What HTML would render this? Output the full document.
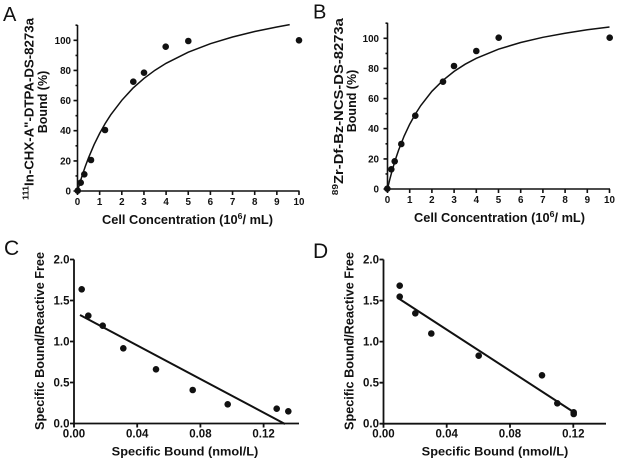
<!DOCTYPE html>
<html><head><meta charset="utf-8">
<style>
html,body{margin:0;padding:0;background:#fff;}
svg{display:block;}
text{font-family:"Liberation Sans",Arial,sans-serif;fill:#111;font-weight:bold;}
text.n{font-weight:normal;}
</style></head>
<body>
<svg width="618" height="462" viewBox="0 0 618 462" xmlns="http://www.w3.org/2000/svg">
<rect width="618" height="462" fill="#fff"/>

<!-- ================= PANEL A ================= -->
<text class="n" x="3" y="21" font-size="20">A</text>
<g stroke="#111" stroke-width="1.6" fill="none">
  <line x1="77.5" y1="25" x2="77.5" y2="191.8"/>
  <line x1="76.7" y1="191" x2="299.5" y2="191"/>
  <path d="M73.5 191H77.5M73.5 160.9H77.5M73.5 130.7H77.5M73.5 100.6H77.5M73.5 70.4H77.5M73.5 40.3H77.5"/>
  <path d="M75.5 175.9H77.5M75.5 145.8H77.5M75.5 115.7H77.5M75.5 85.5H77.5M75.5 55.4H77.5M75.5 25.2H77.5"/>
  <path d="M77.5 191V195M99.65 191V195M121.8 191V195M143.95 191V195M166.1 191V195M188.25 191V195M210.4 191V195M232.55 191V195M254.7 191V195M276.85 191V195M299 191V195"/>
</g>
<g font-size="9.8" text-anchor="end" font-weight="bold">
  <text x="71" y="194.5">0</text>
  <text x="71" y="164.4">20</text>
  <text x="71" y="134.2">40</text>
  <text x="71" y="104.1">60</text>
  <text x="71" y="73.9">80</text>
  <text x="71" y="43.8">100</text>
</g>
<g font-size="9.8" text-anchor="middle" font-weight="bold">
  <text x="77.5" y="205">0</text>
  <text x="99.65" y="205">1</text>
  <text x="121.8" y="205">2</text>
  <text x="143.95" y="205">3</text>
  <text x="166.1" y="205">4</text>
  <text x="188.25" y="205">5</text>
  <text x="210.4" y="205">6</text>
  <text x="232.55" y="205">7</text>
  <text x="254.7" y="205">8</text>
  <text x="276.85" y="205">9</text>
  <text x="299" y="205">10</text>
</g>
<text font-size="12.5" x="102" y="224" textLength="171" lengthAdjust="spacingAndGlyphs">Cell Concentration (10<tspan font-size="8.5" dy="-5">6</tspan><tspan dy="5">/ mL)</tspan></text>
<text font-size="12.5" text-anchor="middle" transform="translate(33.5,109) rotate(-90)" textLength="182" lengthAdjust="spacingAndGlyphs"><tspan font-size="8.5" dy="-5">111</tspan><tspan dy="5">In-CHX-A"-DTPA-DS-8273a</tspan></text>
<text font-size="12.5" text-anchor="middle" transform="translate(47,102) rotate(-90)">Bound (%)</text>
<polyline fill="none" stroke="#111" stroke-width="1.5" points="77.5,191 79.7,183.4 81.93,176.3 85.25,166.5 88.58,157.7 94.11,144.6 99.65,133.4 105.19,123.5 110.73,114.8 121.8,100.3 132.88,88.2 143.95,78.4 155.03,70.2 166.1,63.3 188.25,52.2 210.4,43.7 232.55,37 254.7,31.5 276.85,27 289.7,24.6"/>
<g fill="#111">
  <circle cx="77.7" cy="190.7" r="3.3"/>
  <circle cx="80.7" cy="182.7" r="3.3"/>
  <circle cx="84.3" cy="174.3" r="3.3"/>
  <circle cx="91" cy="160" r="3.3"/>
  <circle cx="105" cy="130" r="3.3"/>
  <circle cx="133.3" cy="81.7" r="3.3"/>
  <circle cx="144" cy="72.7" r="3.3"/>
  <circle cx="165.7" cy="46.7" r="3.3"/>
  <circle cx="188.3" cy="41" r="3.3"/>
  <circle cx="299" cy="40.3" r="3.3"/>
</g>

<!-- ================= PANEL B ================= -->
<text class="n" x="313" y="18.5" font-size="20">B</text>
<g stroke="#111" stroke-width="1.6" fill="none">
  <line x1="387.5" y1="22.7" x2="387.5" y2="189.8"/>
  <line x1="386.7" y1="189" x2="610" y2="189"/>
  <path d="M383.5 189H387.5M383.5 158.9H387.5M383.5 128.7H387.5M383.5 98.6H387.5M383.5 68.4H387.5M383.5 38.3H387.5"/>
  <path d="M385.5 173.9H387.5M385.5 143.8H387.5M385.5 113.7H387.5M385.5 83.5H387.5M385.5 53.4H387.5M385.5 23.2H387.5"/>
  <path d="M387.5 189V193M409.7 189V193M431.9 189V193M454.1 189V193M476.3 189V193M498.5 189V193M520.7 189V193M542.9 189V193M565.1 189V193M587.3 189V193M609.5 189V193"/>
</g>
<g font-size="9.8" text-anchor="end" font-weight="bold">
  <text x="379" y="192.5">0</text>
  <text x="379" y="162.4">20</text>
  <text x="379" y="132.2">40</text>
  <text x="379" y="102.1">60</text>
  <text x="379" y="71.9">80</text>
  <text x="379" y="41.8">100</text>
</g>
<g font-size="9.8" text-anchor="middle" font-weight="bold">
  <text x="387.5" y="203">0</text>
  <text x="409.7" y="203">1</text>
  <text x="431.9" y="203">2</text>
  <text x="454.1" y="203">3</text>
  <text x="476.3" y="203">4</text>
  <text x="498.5" y="203">5</text>
  <text x="520.7" y="203">6</text>
  <text x="542.9" y="203">7</text>
  <text x="565.1" y="203">8</text>
  <text x="587.3" y="203">9</text>
  <text x="609.5" y="203">10</text>
</g>
<text font-size="12.5" x="414" y="222" textLength="171" lengthAdjust="spacingAndGlyphs">Cell Concentration (10<tspan font-size="8.5" dy="-5">6</tspan><tspan dy="5">/ mL)</tspan></text>
<text font-size="12.5" text-anchor="middle" transform="translate(343,106.7) rotate(-90)" textLength="177" lengthAdjust="spacingAndGlyphs"><tspan font-size="8.5" dy="-5">89</tspan><tspan dy="5">Zr-Df-Bz-NCS-DS-8273a</tspan></text>
<text font-size="12.5" text-anchor="middle" transform="translate(356,101) rotate(-90)">Bound (%)</text>
<polyline fill="none" stroke="#111" stroke-width="1.5" points="387.5,189 389.72,179.7 391.94,171.3 395.27,160 398.6,150.1 404.15,136 409.7,124.2 415.25,114.2 420.8,105.5 431.9,91.3 443,80.3 454.1,71.4 465.2,64.2 476.3,58.3 498.5,49.2 520.7,42.5 542.9,37.3 565.1,33.2 587.3,29.8 609.5,27"/>
<g fill="#111">
  <circle cx="387.3" cy="188.7" r="3.3"/>
  <circle cx="391.3" cy="169.3" r="3.3"/>
  <circle cx="394.7" cy="161.3" r="3.3"/>
  <circle cx="401.3" cy="144" r="3.3"/>
  <circle cx="415.3" cy="115.7" r="3.3"/>
  <circle cx="443" cy="81.7" r="3.3"/>
  <circle cx="454" cy="66" r="3.3"/>
  <circle cx="476.3" cy="51" r="3.3"/>
  <circle cx="498.7" cy="37.7" r="3.3"/>
  <circle cx="609.7" cy="37.7" r="3.3"/>
</g>

<!-- ================= PANEL C ================= -->
<text class="n" x="4" y="255" font-size="21">C</text>
<g stroke="#111" stroke-width="1.8" fill="none">
  <line x1="74" y1="259.5" x2="74" y2="424.4"/>
  <line x1="73.1" y1="423.5" x2="299" y2="423.5"/>
  <path d="M70 423.5H74M70 382.5H74M70 341.5H74M70 300.5H74M70 259.5H74"/>
  <path d="M74 423.5V427.5M137.2 423.5V427.5M200.4 423.5V427.5M263.6 423.5V427.5"/>
</g>
<g font-size="11.5" text-anchor="end" font-weight="bold">
  <text x="69.5" y="427.5">0.0</text>
  <text x="69.5" y="386.5">0.5</text>
  <text x="69.5" y="345.5">1.0</text>
  <text x="69.5" y="304.5">1.5</text>
  <text x="69.5" y="263.5">2.0</text>
</g>
<g font-size="11.5" text-anchor="middle" font-weight="bold">
  <text x="74" y="437.5">0.00</text>
  <text x="137.2" y="437.5">0.04</text>
  <text x="200.4" y="437.5">0.08</text>
  <text x="263.6" y="437.5">0.12</text>
</g>
<text font-size="12.2" x="111.7" y="455.5" textLength="146.6" lengthAdjust="spacingAndGlyphs">Specific Bound (nmol/L)</text>
<text font-size="12.6" text-anchor="middle" transform="translate(44,341) rotate(-90)" textLength="178" lengthAdjust="spacingAndGlyphs">Specific Bound/Reactive Free</text>
<line x1="80" y1="315" x2="285" y2="424" stroke="#111" stroke-width="2"/>
<g fill="#111">
  <circle cx="81.7" cy="289.3" r="3.3"/>
  <circle cx="88.3" cy="315.7" r="3.3"/>
  <circle cx="102.7" cy="325.7" r="3.3"/>
  <circle cx="123.3" cy="348.3" r="3.3"/>
  <circle cx="156" cy="369.3" r="3.3"/>
  <circle cx="192.7" cy="390" r="3.3"/>
  <circle cx="227.7" cy="404.3" r="3.3"/>
  <circle cx="276.7" cy="408.7" r="3.3"/>
  <circle cx="288.3" cy="411.3" r="3.3"/>
</g>

<!-- ================= PANEL D ================= -->
<text class="n" x="313" y="258" font-size="21">D</text>
<g stroke="#111" stroke-width="1.8" fill="none">
  <line x1="383.5" y1="259.5" x2="383.5" y2="424.6"/>
  <line x1="382.6" y1="423.7" x2="606" y2="423.7"/>
  <path d="M379.5 423.7H383.5M379.5 382.7H383.5M379.5 341.6H383.5M379.5 300.6H383.5M379.5 259.5H383.5"/>
  <path d="M383.5 423.7V427.7M446.7 423.7V427.7M510 423.7V427.7M573.3 423.7V427.7"/>
</g>
<g font-size="11.5" text-anchor="end" font-weight="bold">
  <text x="379" y="427.7">0.0</text>
  <text x="379" y="386.7">0.5</text>
  <text x="379" y="345.6">1.0</text>
  <text x="379" y="304.6">1.5</text>
  <text x="379" y="263.5">2.0</text>
</g>
<g font-size="11.5" text-anchor="middle" font-weight="bold">
  <text x="383.5" y="437.5">0.00</text>
  <text x="446.7" y="437.5">0.04</text>
  <text x="510" y="437.5">0.08</text>
  <text x="573.3" y="437.5">0.12</text>
</g>
<text font-size="12.2" x="421.7" y="455.5" textLength="146.6" lengthAdjust="spacingAndGlyphs">Specific Bound (nmol/L)</text>
<text font-size="12.6" text-anchor="middle" transform="translate(353.5,341) rotate(-90)" textLength="178" lengthAdjust="spacingAndGlyphs">Specific Bound/Reactive Free</text>
<line x1="399.5" y1="299" x2="573.5" y2="412" stroke="#111" stroke-width="2"/>
<g fill="#111">
  <circle cx="399.7" cy="285.7" r="3.3"/>
  <circle cx="399.7" cy="296.7" r="3.3"/>
  <circle cx="415.3" cy="313.3" r="3.3"/>
  <circle cx="431.3" cy="333.5" r="3.3"/>
  <circle cx="478.7" cy="355.7" r="3.3"/>
  <circle cx="542" cy="375.3" r="3.3"/>
  <circle cx="557.3" cy="403.3" r="3.3"/>
  <circle cx="573.7" cy="412.3" r="3.3"/>
  <circle cx="573.7" cy="414" r="3.3"/>
</g>
</svg>
</body></html>
